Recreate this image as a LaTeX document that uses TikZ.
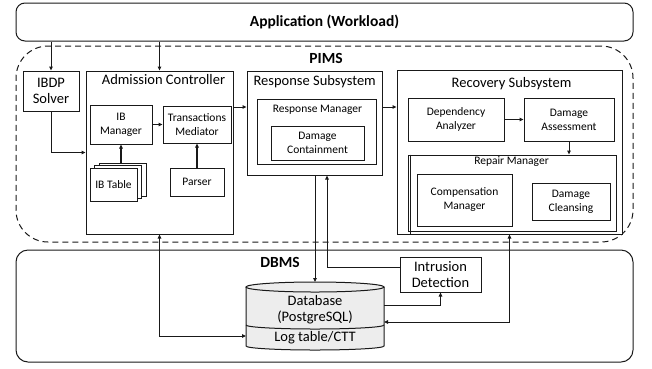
\documentclass[tikz,border=0pt]{standalone}
\usepackage{fontspec}
\setmainfont{Carlito}
\usetikzlibrary{arrows.meta}
\begin{document}
\begin{tikzpicture}[x=1pt,y=-1pt,
  line width=1pt, draw=black!90,
  box/.style={draw, inner sep=0pt, align=center, fill=white},
  big/.style={font=\fontsize{14.5}{16}\selectfont},
  small/.style={font=\fontsize{11.5}{14}\selectfont},
  bold/.style={font=\fontsize{15.5}{17}\selectfont\bfseries},
  arr/.style={-{Triangle[length=4pt,width=3.5pt]}},
  darr/.style={{Triangle[length=4pt,width=3.5pt]}-{Triangle[length=4pt,width=3.5pt]}},
  thickarr/.style={arr, line width=1.4pt},
]
\useasboundingbox (0,0) rectangle (652,368);

% outer frames
\node[box, rounded corners=9pt, minimum width=617pt, minimum height=38pt, bold] (app) at (324.5,22) {Application (Workload)};
\node[draw, dash pattern=on 6pt off 4pt, rounded corners=32pt, minimum width=617pt, minimum height=196pt] (pims) at (324.5,144) {};
\node[bold] (pimst) at (326,58) {PIMS};
\node[draw, rounded corners=12pt, minimum width=617pt, minimum height=112pt] (dbms) at (324.5,306) {};
\node[bold] (dbmst) at (280,262) {DBMS};

% IBDP
\node[box, big, minimum width=56pt, minimum height=40pt] (ibdp) at (51,91) {IBDP\\Solver};

% Admission controller
\node[box, minimum width=147pt, minimum height=163pt] (adm) at (159.5,152.5) {};
\node[big] (admt) at (163.5,80) {Admission Controller};
\node[box, small, minimum width=62pt, minimum height=39pt] (ibm) at (121,124.5) {IB\\Manager};
\node[box, small, minimum width=68pt, minimum height=37pt] (tm) at (197,124.5) {Transactions\\Mediator};
\node[box, minimum width=47pt, minimum height=33pt] (ibt3) at (122.5,179.5) {};
\node[box, minimum width=47pt, minimum height=33pt] (ibt2) at (118,182) {};
\node[box, small, minimum width=47pt, minimum height=33pt] (ibt) at (113.5,184.5) {IB Table};
\node[box, small, minimum width=54pt, minimum height=28pt] (parser) at (197,182) {Parser};

% Response subsystem
\node[box, minimum width=135pt, minimum height=104pt] (resp) at (314.5,123) {};
\node[big] (respt) at (314.7,82) {Response Subsystem};
\node[box, minimum width=119pt, minimum height=65pt] (rm) at (316.5,131.5) {};
\node[small] (rmt) at (317.5,110) {Response Manager};
\node[box, small, minimum width=93pt, minimum height=34pt] (dc) at (317.5,143) {Damage\\Containment};

% Recovery subsystem
\node[box, minimum width=225pt, minimum height=164pt] (rec) at (509.5,152) {};
\node[big] (rect) at (511.5,84) {Recovery Subsystem};
\node[box, small, minimum width=96pt, minimum height=43pt] (dep) at (456,119.5) {Dependency\\Analyzer};
\node[box, small, minimum width=90pt, minimum height=43pt] (da) at (569,119.5) {Damage\\Assessment};
\node[box, minimum width=208pt, minimum height=76pt] (rep) at (512,193) {};
\draw (rep.north west) ++(3,0) |- ([yshift=-3pt]rep.south east);
\node[small] (rept) at (511.5,162) {Repair Manager};
\node[box, small, minimum width=95pt, minimum height=52pt] (comp) at (464.5,200) {Compensation\\Manager};
\node[box, small, minimum width=78pt, minimum height=37pt] (cln) at (571,201.5) {Damage\\Cleansing};

% Intrusion detection
\node[box, big, minimum width=81pt, minimum height=35pt] (intr) at (440.5,274.5) {Intrusion\\Detection};

% Database cylinder
\fill[black!7] (246,287) -- (246,346) arc[start angle=180, end angle=0, x radius=69, y radius=4] -- (384,287) arc[start angle=0, end angle=-180, x radius=69, y radius=5] -- cycle;
\draw (246,287) -- (246,346) arc[start angle=180, end angle=0, x radius=69, y radius=4] -- (384,287);
\draw (315,287) ellipse[x radius=69, y radius=5];
\draw (246,325) arc[start angle=180, end angle=0, x radius=69, y radius=4];
\node[big, align=center] (db) at (315,309.5) {Database\\(PostgreSQL)};
\node[big] (log) at (315,338) {Log table/CTT};
\coordinate (dbtop) at (315,282);
\coordinate (dbr1) at (384,305);
\coordinate (dbr2) at (384,322);
\coordinate (dbl) at (246,336);

% connectors
\draw[arr] (app.south -| ibdp.north) -- (ibdp.north);
\draw[arr] (app.south -| adm.north) -- (adm.north);
\draw[arr] (ibdp.south) |- (adm.west);
\draw[thickarr] (ibm.east) -- (tm.west);
\draw[thickarr] (ibt3.north -| ibm.south) -- (ibm.south);
\draw[thickarr] (parser.north) -- (tm.south);
\draw[arr] (adm.east |- 0,107) -- (resp.west |- 0,107);
\draw[arr] (resp.east |- 0,107) -- (rec.west |- 0,107);
\draw[arr] (dep.east) -- (da.west);
\draw[arr] (da.south) -- (rep.north -| da.south);
\draw[arr] (resp.south -| dbtop) -- (dbtop);
\draw[arr] (intr.west |- 0,267) -| (resp.south -| 327,0);
\draw[arr] (dbr1) -| (intr.south);
\draw[darr] (dbr2) -| (rec.south);
\draw[darr] (adm.south) |- (dbl);
\end{tikzpicture}
\end{document}
